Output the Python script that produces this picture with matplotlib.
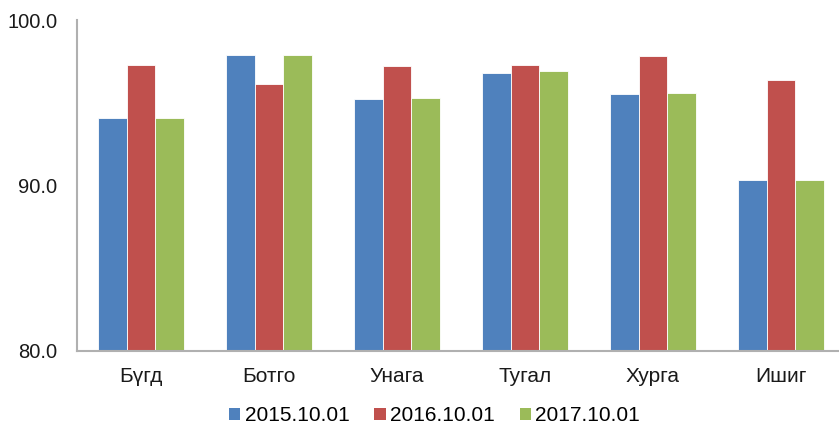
import numpy as np
import matplotlib
matplotlib.use("Agg")
import matplotlib.pyplot as plt
from matplotlib.patches import Patch

plt.rcParams['font.family'] = ['Liberation Sans', 'DejaVu Sans']

# Data
categories = ['Бүгд', 'Ботго', 'Унага', 'Тугал', 'Хурга', 'Ишиг']
series_names = ['2015.10.01', '2016.10.01', '2017.10.01']
v2015 = [94.1, 97.9, 95.2, 96.8, 95.5, 90.3]
v2016 = [97.3, 96.1, 97.2, 97.3, 97.8, 96.4]
v2017 = [94.1, 97.9, 95.3, 96.9, 95.6, 90.3]
colors = ['#4F81BD', '#C0504D', '#9BBB59']

fig = plt.figure(figsize=(8.39, 4.29), dpi=100)
# plot area runs slightly past the right edge, as in the original
ax = fig.add_axes([77 / 839, 78.3 / 429, 768 / 839, 330.7 / 429])

x = np.arange(len(categories))
w = 0.224
for i, (vals, c) in enumerate(zip([v2015, v2016, v2017], colors)):
    ax.bar(x + (i - 1) * w, vals, width=w, color=c, edgecolor='white',
           linewidth=0.6, label=series_names[i])

ax.set_xlim(-0.5, len(categories) - 0.5)
ax.set_ylim(80, 100)
ax.set_yticks([80, 90, 100])
ax.set_yticklabels(['80.0', '90.0', '100.0'])
ax.set_xticks(x)
ax.set_xticklabels(categories)
ax.tick_params(axis='y', length=0, pad=14, labelsize=14.5, colors='#1a1a1a')
ax.tick_params(axis='x', length=0, pad=12, labelsize=15, colors='#1a1a1a')

for s in ['top', 'right']:
    ax.spines[s].set_visible(False)
for s in ['left', 'bottom']:
    ax.spines[s].set_color('#B0B0B0')
    ax.spines[s].set_linewidth(1.5)

handles = [Patch(facecolor=c) for c in colors]
fig.legend(handles, series_names, loc='lower center', ncol=3,
           bbox_to_anchor=(0.518, -0.035), frameon=False, fontsize=15,
           handlelength=0.55, handleheight=0.55, handletextpad=0.2,
           columnspacing=1.2)

fig.savefig('out.png', dpi=100)
